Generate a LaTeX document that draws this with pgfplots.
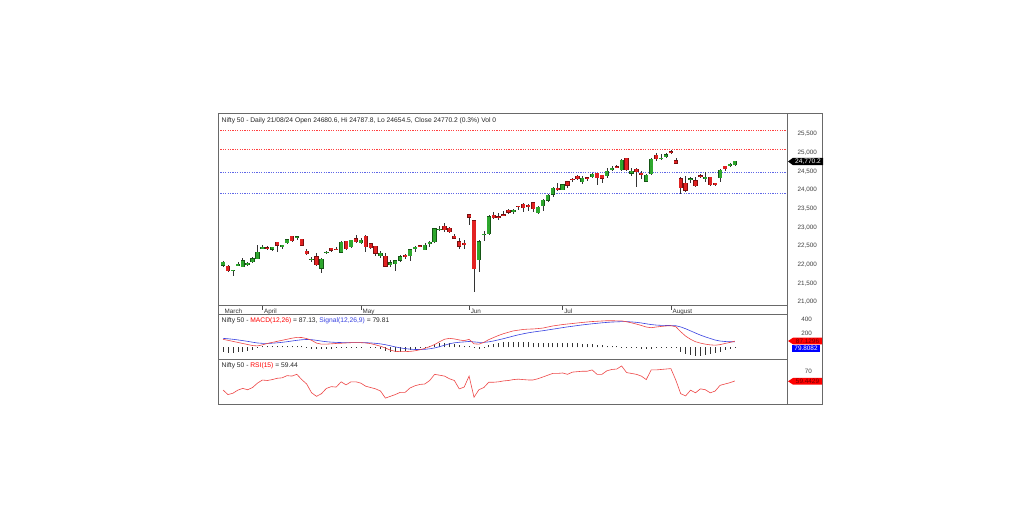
\documentclass[border=0pt]{standalone}
\usepackage{pgfplots}
\pgfplotsset{compat=1.18}
\usepackage{pgfplotstable}
\usepackage{fontspec}
\setmainfont{Liberation Sans}
\setsansfont{Liberation Sans}

\definecolor{upgreen}{RGB}{46,168,46}
\definecolor{upedge}{RGB}{20,85,20}
\definecolor{downred}{RGB}{226,34,34}
\definecolor{downedge}{RGB}{120,15,15}
\definecolor{macdred}{RGB}{238,70,70}
\definecolor{sigblue}{RGB}{55,65,225}
\definecolor{framegray}{RGB}{105,105,105}

% daily OHLC, i = trading day index (0 = 18 Mar 2024)
\pgfplotstableread{
i o h l c
0 21985 22100 21950 22060
1 21960 21990 21800 21830
2 21845 21870 21710 21850
3 21995 22060 21960 22010
4 21940 22180 21925 22110
5 21990 22075 21970 22040
6 22070 22195 22050 22160
7 22160 22518 22160 22340
8 22455 22530 22430 22465
9 22460 22495 22405 22450
10 22410 22480 22375 22465
11 22600 22620 22346 22515
12 22490 22540 22430 22518
13 22585 22697 22541 22670
14 22765 22770 22612 22645
15 22725 22775 22673 22750
16 22680 22680 22504 22520
17 22360 22430 22260 22290
18 22140 22213 22079 22155
19 22212 22326 21961 21996
20 21900 22180 21777 22150
21 22330 22375 22298 22340
22 22440 22447 22349 22380
23 22420 22476 22386 22400
24 22330 22625 22305 22600
25 22625 22630 22385 22425
26 22475 22655 22441 22650
27 22695 22783 22568 22605
28 22590 22711 22567 22648
29 22766 22794 22348 22476
30 22561 22588 22409 22442
31 22489 22499 22232 22302
32 22231 22369 22185 22303
33 22224 22307 21932 21958
34 21990 22131 21950 22055
35 22027 22131 21821 22104
36 22112 22270 22081 22218
37 22255 22297 22152 22201
38 22230 22432 22100 22403
39 22415 22503 22345 22467
40 22513 22525 22470 22502
41 22405 22591 22404 22529
42 22576 22629 22483 22597
43 22614 22993 22577 22968
44 22930 23026 22908 22957
45 23038 23110 22871 22932
46 22977 22998 22858 22888
47 22763 22825 22685 22704
48 22617 22705 22417 22488
49 22568 22653 22418 22531
50 23338 23338 23063 23264
51 23179 23179 21281 21884
52 22128 22670 21791 22620
53 22798 22910 22642 22821
54 22821 23320 22790 23290
55 23319 23412 23227 23259
56 23283 23389 23206 23264
57 23344 23442 23296 23323
58 23453 23481 23353 23399
59 23424 23491 23354 23466
60 23573 23579 23473 23558
61 23629 23665 23413 23516
62 23586 23624 23442 23567
63 23661 23667 23398 23501
64 23382 23559 23351 23538
65 23578 23754 23447 23721
66 23723 23889 23673 23869
67 23881 24087 23805 24044
68 24045 24175 23985 24011
69 24010 24164 23992 24141
70 24228 24236 24056 24124
71 24291 24309 24207 24286
72 24369 24401 24281 24302
73 24213 24363 24168 24324
74 24329 24345 24240 24321
75 24351 24443 24331 24433
76 24459 24461 24141 24324
77 24400 24403 24193 24316
78 24388 24592 24332 24502
79 24563 24636 24522 24587
80 24616 24661 24587 24613
81 24543 24837 24504 24801
82 24853 24854 24508 24531
83 24445 24595 24362 24509
84 24568 24582 24074 24479
85 24444 24504 24307 24413
86 24230 24426 24211 24406
87 24424 24861 24410 24835
88 24943 24999 24774 24836
89 24839 24971 24798 24857
90 24886 24984 24856 24951
91 25031 25078 24956 25011
92 24789 24851 24686 24718
93 24302 24350 23894 24056
94 24190 24383 23960 23993
95 24289 24338 24184 24298
96 24248 24341 24074 24117
97 24386 24420 24311 24368
98 24320 24473 24212 24347
99 24342 24359 24116 24140
100 24184 24196 24099 24144
101 24335 24563 24204 24541
102 24636 24638 24522 24573
103 24648 24734 24607 24699
104 24680.6 24787.8 24654.5 24770.2
}\ohlc

% MACD(12,26), signal(12,26,9), histogram, RSI(15)
\pgfplotstableread{
i macd sig hist rsi
0 114 128 -70 49.2
1 100 122 -75 44
2 85 115 -75 45.5
3 70 106 -70 49
4 55 96 -65 51
5 40 85 -55 49.5
6 25 73 -40 52
7 20 62 10 57
8 35 57 15 60.5
9 55 56 18 60
10 70 59 20 61
11 85 64 22 62.5
12 100 71 22 63
13 115 80 22 65.5
14 130 90 22 65
15 142 100 20 67
16 140 108 15 61
17 125 112 -10 56
18 100 109 -18 46
19 60 100 -25 42
20 45 89 -28 45
21 45 80 -25 51
22 50 74 -20 53
23 55 70 -15 52.5
24 58 68 -12 58.5
25 62 67 -10 55
26 66 66 -8 58.5
27 68 67 -5 58.5
28 66 67 3 57
29 62 66 0 53.5
30 52 63 -5 52
31 35 57 -12 50.5
32 15 49 -30 48
33 -10 37 -50 40
34 -40 22 -60 42
35 -58 6 -65 44
36 -62 -8 -62 46.5
37 -62 -19 -55 46.5
38 -58 -26 -45 51.5
39 -50 -31 -30 54
40 -35 -32 -15 55.5
41 -15 -29 5 56
42 10 -21 20 60
43 40 -9 45 67
44 80 9 55 66
45 115 30 60 65
46 128 50 55 62
47 120 64 45 60
48 105 72 35 50.5
49 95 77 25 52.5
50 114 84 20 65
51 50 77 -15 41
52 45 71 -20 49.5
53 70 71 -10 52
54 110 78 30 58
55 140 91 50 58
56 170 107 65 58.5
57 195 124 75 59.5
58 215 142 80 60
59 235 161 80 61
60 245 178 78 61.5
61 255 193 75 61
62 260 207 70 60.6
63 262 218 65 60.6
64 268 228 60 62
65 275 237 60 64
66 290 248 62 66
67 305 259 65 68
68 315 270 65 68
69 325 281 62 68.5
70 333 292 60 67
71 340 301 58 69.5
72 348 311 55 70
73 355 320 52 70.5
74 362 328 48 70.5
75 368 336 42 72
76 372 343 35 67
77 376 350 30 67
78 380 356 25 71
79 380 361 20 72.5
80 378 364 15 73
81 378 367 10 76.5
82 365 367 5 69
83 350 363 -5 68
84 332 357 -15 67
85 312 348 -25 65
86 290 336 -30 61
87 280 325 -25 72
88 290 318 -15 72
89 298 314 -10 72.5
90 305 312 -5 73
91 308 311 -5 73.5
92 295 308 -10 60.5
93 223 291 -60 45
94 160 265 -90 42.5
95 115 235 -115 49
96 80 204 -125 46
97 60 175 -120 50.5
98 45 149 -115 49.5
99 35 126 -100 46
100 30 104 -85 48
101 38 90 -60 54.5
102 55 83 -40 56
103 70 79 -20 57.5
104 87.13 79.81 10 59.44
}\ind

\begin{document}
\begin{tikzpicture}[font=\fontsize{6.7}{7.5}\selectfont]
\fill[white] (0pt,0pt) rectangle (1036pt,529pt);
\pgfplotsset{
  panel/.style={
    scale only axis, width=569pt, xmin=-1.02, xmax=114.6,
    axis line style={framegray, line width=0.6pt},
    yticklabel pos=right, ytick style={draw=none},
    yticklabel style={anchor=east, xshift=25pt, inner sep=0pt,
      font=\fontsize{6.3}{7}\selectfont, text=black!75},
    /pgf/number format/assume math mode=true,
    /pgf/number format/1000 sep={,},
    scaled y ticks=false,
  },
  bars/.style={only marks, mark=*, mark size=0pt, mark options={draw=none, fill=none},
    forget plot,
    error bars/y dir=both, error bars/y explicit, error bars/error mark=none},
}

% price panel
\begin{axis}[panel, at={(218pt,224pt)}, anchor=south west, height=192pt,
  ymin=20920, ymax=26063,
  ytick={21000,21500,...,25500},
  xtick={8,28,50,69,91}, xticklabels={April,May,Jun,Jul,August},
  extra x ticks={0}, extra x tick labels={March},
  extra x tick style={major tick style={draw=none}},
  xtick pos=left, tick align=outside, major tick length=5pt,
  xtick style={black!70, line width=0.5pt},
  xticklabel style={anchor=north west, inner sep=0pt, xshift=1.5pt, yshift=1.5pt,
    font=\fontsize{6.3}{7}\selectfont, text=black!80},
]
\addplot[red!75, line width=0.6pt, dash pattern=on 1.2pt off 1.2pt] coordinates {(-2,25600) (116,25600)};
\addplot[red!75, line width=0.6pt, dash pattern=on 1.2pt off 1.2pt] coordinates {(-2,25100) (116,25100)};
\addplot[sigblue!80, line width=0.6pt, dash pattern=on 1.2pt off 1.2pt] coordinates {(-2,24475) (116,24475)};
\addplot[sigblue!80, line width=0.6pt, dash pattern=on 1.2pt off 1.2pt] coordinates {(-2,23900) (116,23900)};
% wicks
\addplot[bars, error bars/error bar style={black!80, line width=0.5pt}]
  table[x=i, y expr={(\thisrow{h}+\thisrow{l})/2}, y error expr={(\thisrow{h}-\thisrow{l})/2}] {\ohlc};
% body outlines, up and down
\addplot[bars, restrict y to domain=0:50000, error bars/error bar style={upedge, line width=4.3pt}]
  table[x=i, y expr={\thisrow{c}>=\thisrow{o} ? (\thisrow{o}+\thisrow{c})/2 : -90000},
    y error expr={max(abs(\thisrow{c}-\thisrow{o})/2,9)+8}] {\ohlc};
\addplot[bars, restrict y to domain=0:50000, error bars/error bar style={downedge, line width=4.3pt}]
  table[x=i, y expr={\thisrow{c}<\thisrow{o} ? (\thisrow{o}+\thisrow{c})/2 : -90000},
    y error expr={max(abs(\thisrow{c}-\thisrow{o})/2,9)+8}] {\ohlc};
% green bodies
\addplot[bars, restrict y to domain=0:50000, error bars/error bar style={upgreen, line width=3.1pt}]
  table[x=i, y expr={\thisrow{c}>=\thisrow{o} ? (\thisrow{o}+\thisrow{c})/2 : -90000},
    y error expr={abs(\thisrow{c}-\thisrow{o})/2}] {\ohlc};
% red bodies
\addplot[bars, restrict y to domain=0:50000, error bars/error bar style={downred, line width=3.1pt}]
  table[x=i, y expr={\thisrow{c}<\thisrow{o} ? (\thisrow{o}+\thisrow{c})/2 : -90000},
    y error expr={abs(\thisrow{c}-\thisrow{o})/2}] {\ohlc};
\node[anchor=north west, inner sep=0pt, xshift=3.5pt, yshift=-4pt, text=black!85] at (rel axis cs:0,1)
  {Nifty 50 - Daily 21/08/24 Open 24680.6, Hi 24787.8, Lo 24654.5, Close 24770.2 (0.3\%) Vol 0};
\end{axis}

% MACD panel
\begin{axis}[panel, at={(218pt,170pt)}, anchor=south west, height=45pt,
  ymin=-167, ymax=476, ytick={200,400}, xtick=\empty]
\addplot[black!80, line width=0.55pt, ycomb, mark=none] table[x=i, y=hist] {\ind};
\addplot[sigblue, line width=0.6pt, mark=none] table[x=i, y=sig] {\ind};
\addplot[macdred, line width=0.6pt, mark=none] table[x=i, y=macd] {\ind};
\node[anchor=north west, inner sep=0pt, xshift=3.5pt, yshift=-3pt, text=black!85] at (rel axis cs:0,1)
  {Nifty 50 - \textcolor{red}{MACD(12,26)} = 87.13, \textcolor{sigblue}{Signal(12,26,9)} = 79.81};
\end{axis}

% RSI panel
\begin{axis}[panel, at={(218pt,125pt)}, anchor=south west, height=45pt,
  ymin=33.3, ymax=84.4, ytick={70}, xtick=\empty]
\addplot[macdred, line width=0.6pt, mark=none] table[x=i, y=rsi] {\ind};
\node[anchor=north west, inner sep=0pt, xshift=3.5pt, yshift=-3.5pt, text=black!85] at (rel axis cs:0,1)
  {Nifty 50 - \textcolor{red}{RSI(15)} = 59.44};
\end{axis}

% outer frame and value tags
\begin{scope}[x=1pt, y=1pt]
\draw[framegray, line width=0.6pt] (218,125) rectangle (822,416);
\draw[framegray, line width=0.6pt] (787,125) -- (787,416);
\fill[black] (788,367.5) -- (793,371.2) -- (823,371.2) -- (823,363.8) -- (793,363.8) -- cycle;
\node[text=white, inner sep=0pt, font=\fontsize{6.6}{7}\selectfont] at (808,367.5) {24,770.2};
\fill[red] (788,188) -- (793,191.3) -- (822,191.3) -- (822,184.7) -- (793,184.7) -- cycle;
\node[text=red!45!black, inner sep=0pt, font=\fontsize{6.4}{7}\selectfont] at (807.5,188) {87.1296};
\fill[blue] (792,177.3) rectangle (820,184);
\node[text=white, inner sep=0pt, font=\fontsize{6.4}{7}\selectfont] at (806,180.7) {79.8082};
\fill[red] (788,147.7) -- (793,151) -- (822,151) -- (822,144.4) -- (793,144.4) -- cycle;
\node[text=red!45!black, inner sep=0pt, font=\fontsize{6.4}{7}\selectfont] at (807.5,147.7) {59.4429};
\end{scope}
\end{tikzpicture}
\end{document}
